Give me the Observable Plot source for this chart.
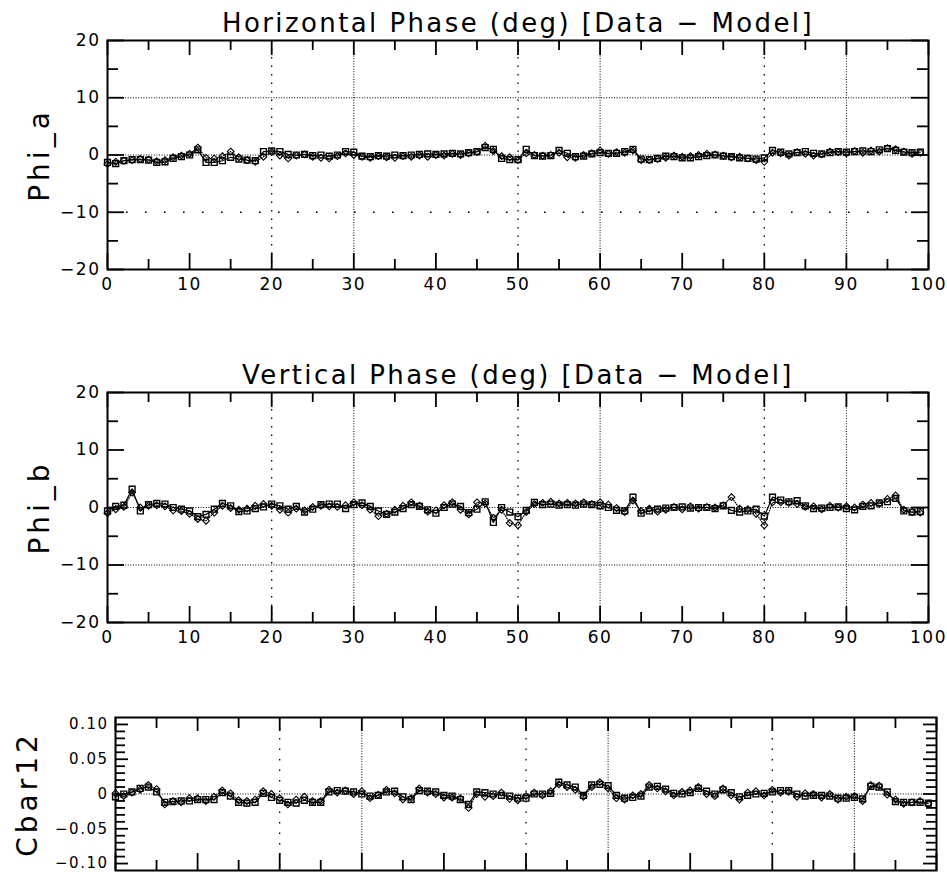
<!DOCTYPE html>
<html><head><meta charset="utf-8">
<script src="https://cdn.jsdelivr.net/npm/d3@7"></script>
<script src="https://cdn.jsdelivr.net/npm/@observablehq/plot@0.6"></script>
<style>
html,body{margin:0;padding:0;background:#fff;}
#chart{width:947px;height:872px;overflow:hidden;position:relative;}
#chart svg{display:block;overflow:visible;}
.ttl text{letter-spacing:2.4px;}
.ylab text{letter-spacing:4px;}
.tlab text{letter-spacing:1.5px;}
</style></head><body><div id="chart"></div>
<script>
// ---------- titles / labels ----------
const titleA = "Horizontal Phase (deg) [Data − Model]";
const titleB = "Vertical Phase (deg) [Data − Model]";
const ylabelA = "Phi_a";
const ylabelB = "Phi_b";
const ylabelC = "Cbar12";

// ---------- tick values ----------
const xMajor = [0,10,20,30,40,50,60,70,80,90,100];
const xMinor = [5,15,25,35,45,55,65,75,85,95];
const xGridDense = [30,60,90];
const xGridSparse = [20,50,80];
const yMajorAB = [-20,-10,0,10,20];
const yMinorAB = [-15,-5,5,15];
const yMajorC = [-0.10,-0.05,0,0.05,0.10];
const yMinorC = [-0.09,-0.08,-0.07,-0.06,-0.04,-0.03,-0.02,-0.01,0.01,0.02,0.03,0.04,0.06,0.07,0.08,0.09];
const yLabelsC = ["−0.10","−0.05","0","0.05","0.10"];
const hDenseA = [10,0], hSparseA = [-10];
const hDenseB = [-10,0], hSparseB = [];
const hDenseC = [0], hSparseC = [];

// ---------- data: Phi_a (horizontal) ----------
const phiA_sq = [-1.3,-1.5,-1.0,-0.8,-0.8,-0.9,-1.3,-1.2,-0.6,-0.3,
 0.0,0.9,-1.3,-1.3,-1.0,-0.4,-0.7,-0.9,-1.0,0.6,
 0.7,0.6,0.1,0.0,0.1,-0.1,0.0,-0.2,0.0,0.6,
 0.5,-0.2,-0.3,-0.1,-0.2,0.0,-0.1,0.0,0.1,0.2,
 0.1,0.2,0.3,0.2,0.4,0.6,1.3,1.0,-0.6,-0.8,
 -0.8,1.0,-0.1,-0.2,-0.1,0.8,0.3,-0.3,-0.2,0.2,
 0.4,0.3,0.3,0.6,1.0,-0.7,-0.8,-0.6,-0.2,-0.3,
 -0.5,-0.5,-0.3,-0.1,0.0,-0.2,-0.3,-0.5,-0.6,-0.7,
 -0.5,0.8,0.5,0.2,0.4,0.6,0.3,0.2,0.4,0.6,
 0.5,0.6,0.7,0.6,0.9,1.1,0.8,0.5,0.4,0.5];
const phiA_dm = [-1.6,-1.2,-1.0,-0.9,-0.7,-0.8,-1.1,-0.9,-0.4,-0.1,
 0.2,1.3,-0.5,-0.6,-0.2,0.6,-0.4,-0.9,-1.2,-0.3,
 0.5,-0.1,-0.6,-0.1,0.1,-0.3,-0.5,-0.6,-0.2,0.3,
 0.0,-0.3,-0.5,-0.2,-0.4,-0.5,-0.2,-0.3,-0.1,-0.3,
 0.0,-0.1,0.2,0.0,0.3,0.5,1.6,0.7,-0.2,-0.4,
 -0.9,0.3,0.0,-0.1,0.0,0.4,-0.4,-0.5,0.0,0.3,
 0.8,0.2,0.5,0.4,0.8,-0.9,-0.9,-0.7,-0.5,-0.1,
 -0.3,-0.2,0.0,0.2,0.1,-0.1,-0.4,-0.3,-0.6,-0.9,
 -1.2,0.4,0.3,-0.1,0.5,0.2,-0.1,0.1,0.6,0.5,
 0.3,0.7,0.4,0.8,0.6,1.2,1.0,0.6,0.2,0.4];

// ---------- data: Phi_b (vertical) ----------
const phiB_sq = [-0.6,0.2,0.4,3.2,-0.6,0.5,0.7,0.6,0.0,-0.3,
 -0.6,-1.6,-1.2,-0.3,0.7,0.3,-0.7,-0.6,-0.2,0.1,
 0.6,0.3,-0.3,0.2,-0.8,-0.3,0.5,0.6,0.6,-0.2,
 0.5,0.8,0.2,-0.6,-1.2,-0.8,-0.2,0.5,0.2,-0.4,
 -1.0,0.0,0.6,0.2,-0.9,-0.3,1.0,-2.6,0.0,-0.8,
 -1.6,-0.5,0.9,0.5,0.6,0.4,0.5,0.4,0.6,0.5,
 0.3,0.0,-0.5,-0.6,1.8,-1.0,-0.6,-0.3,-0.1,0.0,
 0.1,-0.1,0.0,0.0,-0.2,0.3,-0.5,-0.8,-0.6,-0.3,
 -1.5,1.8,1.3,1.0,1.2,0.3,-0.2,-0.1,0.0,0.1,
 -0.2,-0.4,0.2,0.3,0.8,1.0,1.6,-0.6,-0.8,-0.7];
const phiB_dm = [-1.0,-0.3,0.1,2.6,0.0,0.3,0.4,0.2,-0.5,-0.6,
 -1.1,-2.0,-2.3,-0.9,0.3,-0.1,-0.4,-0.2,0.3,0.6,
 0.3,-0.4,-0.9,-0.2,-0.5,0.1,0.3,0.2,0.1,0.4,
 0.9,0.4,-0.4,-1.5,-1.1,-0.4,0.3,0.9,0.3,-0.7,
 -0.5,0.4,0.9,-0.4,-1.2,0.9,0.7,-1.8,-0.4,-2.7,
 -3.1,-0.8,0.6,0.8,1.0,0.7,0.8,0.7,0.9,0.6,
 0.9,0.5,-0.1,-0.8,1.2,-0.6,-0.2,-0.7,-0.4,0.1,
 -0.3,0.2,-0.2,0.1,0.0,0.4,1.8,-0.2,-0.3,-1.1,
 -3.1,0.9,0.9,0.8,0.6,0.1,0.2,-0.3,0.3,0.0,
 0.2,0.0,0.5,0.8,0.6,1.5,2.1,-0.4,-0.8,-0.9];

// ---------- data: Cbar12 ----------
const cbar_sq = [-0.004,0.000,0.003,0.008,0.010,0.003,-0.012,-0.011,-0.010,-0.010,
 -0.008,-0.008,-0.008,0.002,-0.003,-0.012,-0.013,-0.012,0.001,-0.005,
 -0.009,-0.012,-0.013,-0.009,-0.012,-0.012,0.003,0.005,0.004,0.003,
 0.000,-0.003,-0.002,0.003,0.004,-0.004,-0.008,0.005,0.004,0.003,
 -0.002,-0.003,-0.008,-0.015,0.003,0.002,0.000,-0.002,-0.003,-0.006,
 -0.006,0.000,0.000,0.001,0.017,0.013,0.010,-0.002,0.013,0.014,
 0.012,-0.002,-0.006,-0.005,-0.003,0.010,0.011,0.007,0.001,0.000,
 0.002,0.008,0.004,0.000,0.006,0.002,-0.004,-0.002,0.000,0.001,
 0.003,0.005,0.005,0.000,-0.003,-0.002,-0.002,-0.003,-0.006,-0.006,
 -0.005,-0.007,0.011,0.010,0.003,-0.011,-0.012,-0.012,-0.012,-0.013];
const cbar_dm = [0.001,-0.003,0.002,0.006,0.013,0.007,-0.015,-0.010,-0.012,-0.006,
 -0.006,-0.010,-0.004,0.005,0.001,-0.009,-0.010,-0.008,0.004,0.000,
 -0.006,-0.015,-0.008,-0.004,-0.010,-0.010,0.006,0.002,0.005,0.000,
 0.004,-0.006,-0.001,0.006,0.001,-0.008,-0.006,0.008,0.002,0.000,
 -0.005,-0.005,-0.006,-0.020,0.000,-0.004,-0.003,0.002,-0.007,-0.009,
 -0.003,0.002,-0.002,0.004,0.014,0.010,0.006,-0.004,0.010,0.017,
 0.008,-0.006,-0.008,-0.002,0.000,0.013,0.008,0.004,-0.002,0.003,
 0.005,0.010,0.000,-0.003,0.008,-0.002,-0.008,0.002,0.004,-0.002,
 0.006,0.002,0.003,-0.004,0.001,0.000,-0.005,0.000,-0.008,-0.004,
 -0.003,-0.010,0.013,0.012,-0.001,-0.008,-0.014,-0.012,-0.010,-0.014];

// ---------- helpers ----------
const FONT = "'DejaVu Sans', sans-serif";
const diamond = {draw(ctx, size){ const r = Math.sqrt(size/Math.PI); ctx.moveTo(0,-r); ctx.lineTo(r,0); ctx.lineTo(0,r); ctx.lineTo(-r,0); ctx.closePath(); }};
const toRows = arr => arr.map((v,i) => ({x:i, y:v}));
const TW = 1.8; // tick stroke width
const XD = [0,100];

function panel(o){
  const sq = toRows(o.sq), dm = toRows(o.dm);
  const fw = 947 - o.ml - o.mr;             // frame width (px)
  const fh = o.height - o.mt - o.mb;        // frame height (px)
  const [y0, y1] = o.yDomain, [x0, x1] = XD;
  const uy = (y1 - y0) / fh, ux = (x1 - x0) / fw; // data units per pixel (tick lengths)
  const tickStyle = {stroke:"#000", strokeWidth:TW};
  const xt = (vals, len, top) => Plot.ruleX(vals, {x: d => d, y1: () => top ? y1 : y0, y2: () => top ? y1 - len*uy : y0 + len*uy, ...tickStyle});
  const yt = (vals, len, right) => Plot.ruleY(vals, {y: d => d, x1: () => right ? x1 : x0, x2: () => right ? x1 - len*ux : x0 + len*ux, ...tickStyle});
  const marks = [
    Plot.ruleX(xGridDense, {stroke:"#000", strokeWidth:1, strokeDasharray:"1,1.6"}),
    Plot.ruleX(xGridSparse, {stroke:"#000", strokeWidth:1.3, strokeDasharray:"1.5,"+o.vSparseGap}),
    Plot.ruleY(o.hDense, {stroke:"#000", strokeWidth:1, strokeDasharray:"1,1.6"}),
    Plot.ruleY(o.hSparse, {stroke:"#000", strokeWidth:1.6, strokeDasharray:"1.6,17.4"}),
    Plot.line(dm, {x:"x", y:"y", stroke:"#000", strokeWidth:1.1, strokeDasharray:"1,1.5"}),
    Plot.line(sq, {x:"x", y:"y", stroke:"#000", strokeWidth:1.2}),
    Plot.dot(dm, {x:"x", y:"y", symbol:diamond, r:3.4, fill:"none", stroke:"#000", strokeWidth:1.1}),
    Plot.dot(sq, {x:"x", y:"y", symbol:"square", r:3.3, fill:"none", stroke:"#000", strokeWidth:1.4}),
    // inward tick marks
    xt(xMajor, o.xMajB, false), xt(xMinor, o.xMinB, false),
    xt(xMajor, o.xMajT, true),  xt(xMinor, o.xMinT, true),
    yt(o.yMajor, o.yMaj, false), yt(o.yMinor, o.yMin, false),
    yt(o.yMajor, o.yMaj, true),  yt(o.yMinor, o.yMin, true),
    Plot.frame({stroke:"#000", strokeWidth:2}),
    // tick labels
    Plot.axisY(o.yMajor, {anchor:"left", tickSize:0, tickPadding:7, tickFormat:o.yFmt, fontSize:o.yFont, className:"tlab", label:null}),
    // y label
    Plot.text([o.ylabel], {frameAnchor:"left", rotate:-90, dx:o.ylabDx, textAnchor:"middle", lineAnchor:"middle", fontSize:28, fill:"#000", className:"ylab", text: d => d})
  ];
  if (o.xLabels) marks.push(Plot.axisX(xMajor, {anchor:"bottom", tickSize:0, tickPadding:8, tickFormat:d3.format("d"), fontSize:17, className:"tlab", label:null}));
  else marks.push(Plot.axisX([], {anchor:"bottom", tickSize:0, label:null}));
  if (o.title) marks.push(Plot.text([o.title], {frameAnchor:"top", dy:-17, lineAnchor:"middle", fontSize:26, fill:"#000", className:"ttl", text: d => d}));
  return Plot.plot({
    width: 947, height: o.height,
    marginLeft: o.ml, marginRight: o.mr, marginTop: o.mt, marginBottom: o.mb,
    x: {domain: XD},
    y: {domain: o.yDomain},
    style: {fontFamily: FONT, fontSize:"17px", color:"#000", background:"#fff", overflow:"visible"},
    marks
  });
}

const chart = document.getElementById("chart");
chart.append(panel({
  sq: phiA_sq, dm: phiA_dm, title: titleA, ylabel: ylabelA,
  height: 320, ml: 107, mr: 19, mt: 40, mb: 51,
  yDomain: [-20,20], yMajor: yMajorAB, yMinor: yMinorAB, yFmt: d3.format("d"), yFont: 17,
  hDense: hDenseA, hSparse: hSparseA, vSparseGap: 7,
  xLabels: true, xMajB:16, xMinB:10, xMajT:15, xMinT:10, yMaj:17, yMin:11, ylabDx:-67
}));
chart.append(panel({
  sq: phiB_sq, dm: phiB_dm, title: titleB, ylabel: ylabelB,
  height: 370, ml: 107, mr: 19, mt: 72, mb: 68,
  yDomain: [-20,20], yMajor: yMajorAB, yMinor: yMinorAB, yFmt: d3.format("d"), yFont: 17,
  hDense: hDenseB, hSparse: hSparseB, vSparseGap: 7,
  xLabels: true, xMajB:16, xMinB:10, xMajT:15, xMinT:10, yMaj:17, yMin:11, ylabDx:-67
}));
chart.append(panel({
  sq: cbar_sq, dm: cbar_dm, title: null, ylabel: ylabelC,
  height: 182, ml: 115, mr: 11, mt: 27, mb: 2,
  yDomain: [-0.11,0.11], yMajor: yMajorC, yMinor: yMinorC, yFmt: (d,i) => yLabelsC[i], yFont: 15,
  hDense: hDenseC, hSparse: hSparseC, vSparseGap: 9,
  xLabels: false, xMajB:17, xMinB:10, xMajT:14, xMinT:11, yMaj:13, yMin:10, ylabDx:-87
}));
</script>
</body></html>
